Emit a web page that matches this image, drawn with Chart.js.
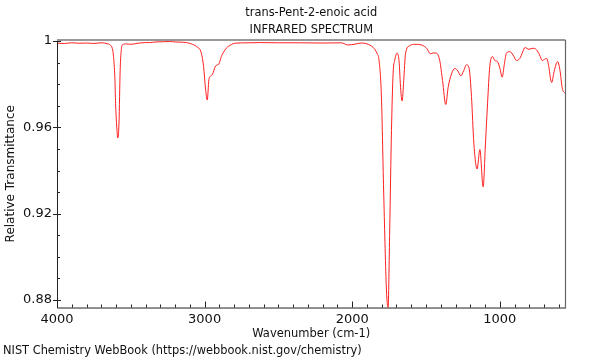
<!DOCTYPE html>
<html>
<head>
<meta charset="utf-8">
<script src="https://cdn.jsdelivr.net/npm/chart.js@4"></script>
<style>
  body { margin: 0; background: #fff; }
</style>
</head>
<body>
<canvas id="ir" width="600" height="360"></canvas>
<script>
// spectrum (wavenumber cm-1, relative transmittance)
const wavenumbers = [4000, 3950, 3900, 3850, 3800, 3750, 3700, 3660, 3640, 3625, 3617, 3608, 3603, 3595, 3588, 3580, 3572, 3565, 3558, 3531,
  3500, 3450, 3400, 3373, 3330, 3280, 3237, 3200, 3160, 3124, 3090, 3056, 3022, 3007, 2993, 2982, 2971, 2960, 2948, 2925,
  2903, 2887, 2870, 2853, 2820, 2797, 2700, 2627, 2500, 2356, 2200, 2073, 2030, 1980, 1938, 1900, 1859, 1830, 1818, 1802,
  1786, 1768, 1757, 1746, 1734, 1723, 1712, 1696, 1683, 1671, 1662, 1651, 1639, 1610, 1575, 1542, 1510, 1493, 1470, 1450,
  1429, 1407, 1388, 1366, 1350, 1327, 1305, 1285, 1264, 1245, 1226, 1208, 1192, 1176, 1154, 1135, 1113, 1097, 1083, 1068,
  1049, 1034, 1016, 1000, 984, 970, 955, 932, 910, 887, 864, 845, 830, 803, 774, 751, 730, 713, 683, 672,
  649, 632, 609, 593, 577, 559, 555];
const transmittance = [0.9990, 0.9989, 0.9992, 0.9990, 0.9991, 0.9989, 0.9992, 0.9988, 0.9982, 0.9965, 0.9928, 0.9830, 0.9712, 0.9600, 0.9551, 0.9620, 0.9867, 0.9955, 0.9982, 0.9987,
  0.9985, 0.9990, 0.9993, 0.9993, 0.9996, 0.9997, 0.9998, 0.9996, 0.9995, 0.9993, 0.9987, 0.9975, 0.9944, 0.9882, 0.9774, 0.9727, 0.9821, 0.9838, 0.9844, 0.9885,
  0.9894, 0.9928, 0.9950, 0.9967, 0.9983, 0.9990, 0.9992, 0.9993, 0.9992, 0.9992, 0.9991, 0.9992, 0.9982, 0.9986, 0.9991, 0.9987, 0.9971, 0.9940, 0.9910, 0.9740,
  0.9278, 0.8846, 0.8765, 0.9124, 0.9586, 0.9850, 0.9910, 0.9944, 0.9910, 0.9771, 0.9722, 0.9817, 0.9941, 0.9979, 0.9985, 0.9984, 0.9975, 0.9964, 0.9941, 0.9945,
  0.9944, 0.9910, 0.9817, 0.9706, 0.9786, 0.9848, 0.9873, 0.9862, 0.9839, 0.9862, 0.9890, 0.9874, 0.9743, 0.9527, 0.9407, 0.9497, 0.9324, 0.9527, 0.9712, 0.9882,
  0.9928, 0.9910, 0.9905, 0.9875, 0.9833, 0.9890, 0.9944, 0.9951, 0.9935, 0.9910, 0.9920, 0.9950, 0.9970, 0.9962, 0.9967, 0.9959, 0.9935, 0.9910, 0.9920, 0.9897,
  0.9808, 0.9859, 0.9905, 0.9867, 0.9782, 0.9759, 0.9757];

const xMajor = [1000, 2000, 3000, 4000];
const yMajor = [0.88, 0.92, 0.96, 1.0];

Chart.defaults.font.family = 'DejaVu Sans';
Chart.defaults.font.size = 11;
Chart.defaults.color = '#111';

// frame + inside tick marks like the NIST plots
const frameTicks = {
  id: 'frameTicks',
  afterDraw(chart) {
    const { ctx, chartArea: a, scales: { x, y } } = chart;
    ctx.save();
    ctx.strokeStyle = '#222';
    ctx.lineWidth = 1;
    ctx.beginPath();
    for (let w = 600; w <= 4000; w += 100) {
      const px = Math.round(x.getPixelForValue(w)) + 0.5;
      const len = w % 1000 === 0 ? 6 : 3;
      ctx.moveTo(px, a.bottom);
      ctx.lineTo(px, a.bottom - len);
    }
    for (let i = 0; i <= 12; i++) {
      const v = 0.88 + i * 0.01;
      const py = Math.round(y.getPixelForValue(v)) + 0.5;
      if (i % 4 === 0) {
        ctx.moveTo(a.left - 4, py);
        ctx.lineTo(a.left + 4, py);
      } else {
        ctx.moveTo(a.left, py);
        ctx.lineTo(a.left + 3, py);
      }
    }
    ctx.stroke();
    // frame
    ctx.beginPath();
    ctx.moveTo(a.left + 0.5, a.top);
    ctx.lineTo(a.left + 0.5, a.bottom + 0.5);
    ctx.lineTo(a.right, a.bottom + 0.5);
    ctx.stroke();
    ctx.strokeStyle = '#999';
    ctx.lineWidth = 2;
    ctx.beginPath();
    ctx.moveTo(a.left, a.top);
    ctx.lineTo(a.right, a.top);
    ctx.stroke();
    ctx.strokeStyle = '#666';
    ctx.lineWidth = 1.2;
    ctx.beginPath();
    ctx.moveTo(a.right, a.top);
    ctx.lineTo(a.right, a.bottom + 1);
    ctx.stroke();
    ctx.restore();
  }
};

new Chart(document.getElementById('ir'), {
  type: 'line',
  data: {
    datasets: [{
      data: wavenumbers.map((w, i) => ({ x: w, y: transmittance[i] })),
      borderColor: '#ff2020',
      borderWidth: 1,
      pointRadius: 0,
      cubicInterpolationMode: 'monotone',
      fill: false
    }]
  },
  options: {
    responsive: false,
    animation: false,
    layout: { padding: { left: 3, right: 34.5, top: 0, bottom: 0 } },
    plugins: {
      legend: { display: false },
      tooltip: { enabled: false },
      title: {
        display: true,
        text: ['trans-Pent-2-enoic acid', 'INFRARED SPECTRUM'],
        fullSize: false,
        font: { size: 11.4, weight: 'normal', lineHeight: 17 / 11.4 },
        padding: { top: 4.5, bottom: 1.5 },
        color: '#111'
      },
      subtitle: {
        display: true,
        position: 'bottom',
        align: 'start',
        text: 'NIST Chemistry WebBook (https://webbook.nist.gov/chemistry)',
        font: { size: 11.4, lineHeight: 1.2 },
        padding: { top: 0, bottom: 2 },
        color: '#111'
      }
    },
    scales: {
      x: {
        type: 'linear',
        reverse: true,
        min: 555,
        max: 4000,
        grid: { display: false, drawTicks: false },
        border: { display: false },
        afterBuildTicks: s => { s.ticks = xMajor.map(v => ({ value: v })); },
        ticks: {
          autoSkip: false,
          padding: 4,
          maxRotation: 0,
          font: { size: 13 },
          callback: v => String(v)
        },
        title: { display: true, text: 'Wavenumber (cm-1)', font: { size: 11.5 }, padding: { top: 0, bottom: 3.4 } },
        afterFit: s => { s.height = 36.8; }
      },
      y: {
        min: 0.8765,
        max: 1.0005,
        grid: { display: false, drawTicks: false },
        border: { display: false },
        afterBuildTicks: s => { s.ticks = yMajor.map(v => ({ value: v })); },
        ticks: {
          autoSkip: false,
          padding: 5,
          font: { size: 13 },
          callback: v => String(Math.round(v * 100) / 100)
        },
        title: { display: true, text: 'Relative Transmittance', font: { size: 12 }, padding: { top: 0.5, bottom: 0 } },
        afterFit: s => { s.width = 54; }
      }
    }
  },
  plugins: [frameTicks]
});
</script>
</body>
</html>
